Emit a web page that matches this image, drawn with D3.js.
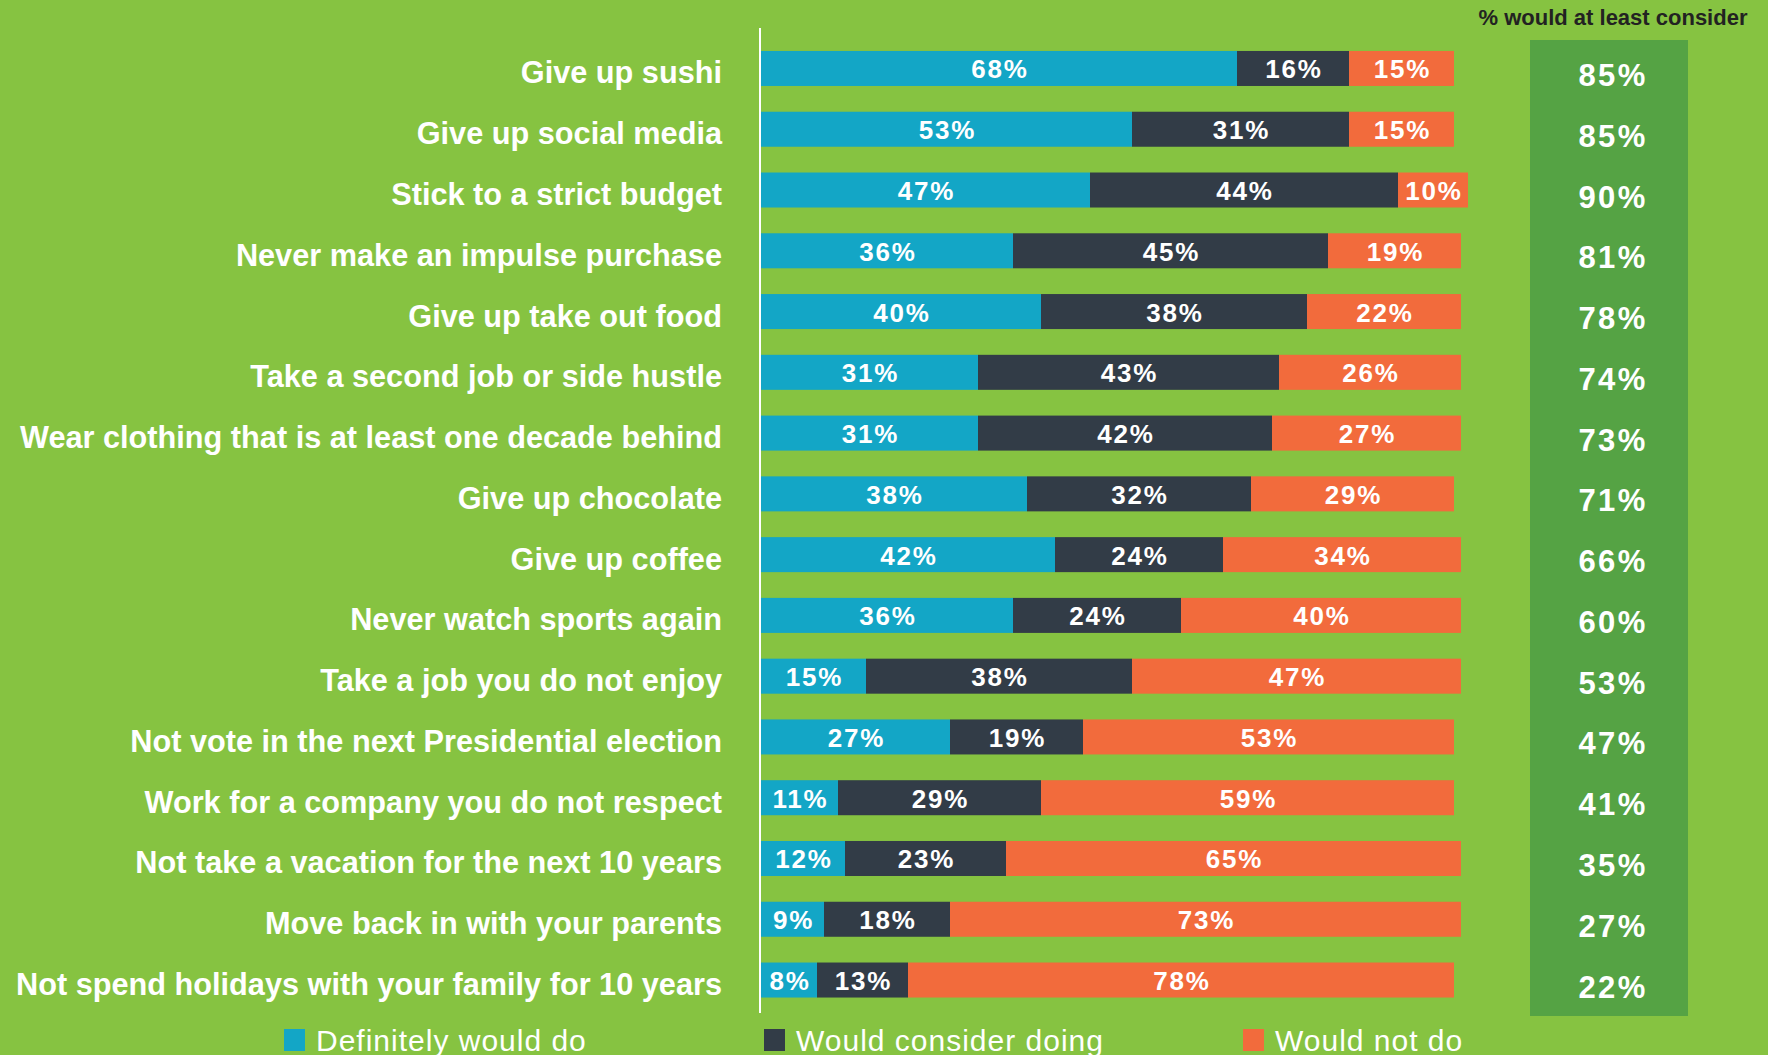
<!DOCTYPE html>
<html>
<head>
<meta charset="utf-8">
<script src="https://cdn.jsdelivr.net/npm/d3@7"></script>
<style>
  body { margin: 0; background: #86c341; }
  svg { display: block; }
  text { font-family: "Liberation Sans", Arial, sans-serif; }
</style>
</head>
<body>
<div id="chart"></div>
<script>
// survey items, top to bottom
const items = [
  "Give up sushi",
  "Give up social media",
  "Stick to a strict budget",
  "Never make an impulse purchase",
  "Give up take out food",
  "Take a second job or side hustle",
  "Wear clothing that is at least one decade behind",
  "Give up chocolate",
  "Give up coffee",
  "Never watch sports again",
  "Take a job you do not enjoy",
  "Not vote in the next Presidential election",
  "Work for a company you do not respect",
  "Not take a vacation for the next 10 years",
  "Move back in with your parents",
  "Not spend holidays with your family for 10 years"
];

const definitely = [68, 53, 47, 36, 40, 31, 31, 38, 42, 36, 15, 27, 11, 12, 9, 8];
const consider   = [16, 31, 44, 45, 38, 43, 42, 32, 24, 24, 38, 19, 29, 23, 18, 13];
const wouldNot   = [15, 15, 10, 19, 22, 26, 27, 29, 34, 40, 47, 53, 59, 65, 73, 78];
const atLeast    = [85, 85, 90, 81, 78, 74, 73, 71, 66, 60, 53, 47, 41, 35, 27, 22];

const seriesNames = ["Definitely would do", "Would consider doing", "Would not do"];
const seriesColors = ["#13a6c6", "#323c47", "#f26b3c"];

const W = 1768, H = 1055;

const svg = d3.select("#chart").append("svg")
  .attr("width", W)
  .attr("height", H);

svg.append("rect")
  .attr("width", W).attr("height", H)
  .attr("fill", "#86c341");

// scales
const x = d3.scaleLinear()
  .domain([0, 100])
  .range([761, 1461]);

const y = d3.scaleBand()
  .domain(items)
  .range([25.2, 1023.3])
  .paddingInner(0.424)
  .paddingOuter(0.424);

// stack the three answers
const rows = items.map((name, i) => ({
  name: name,
  s0: definitely[i],
  s1: consider[i],
  s2: wouldNot[i]
}));
const stacked = d3.stack().keys(["s0", "s1", "s2"])(rows);

// right-side summary panel
svg.append("rect")
  .attr("x", 1530)
  .attr("y", 40)
  .attr("width", 158)
  .attr("height", 976)
  .attr("fill", "#55a344");

svg.append("text")
  .attr("x", 1613)
  .attr("y", 25)
  .attr("text-anchor", "middle")
  .attr("fill", "#222")
  .style("font-size", "22px")
  .style("font-weight", "bold")
  .text("% would at least consider");

// bars
const layers = svg.selectAll(".layer")
  .data(stacked)
  .join("g")
  .attr("class", "layer")
  .attr("fill", (d, i) => seriesColors[i]);

layers.selectAll("rect")
  .data(d => d)
  .join("rect")
  .attr("x", d => x(d[0]))
  .attr("y", d => y(d.data.name))
  .attr("width", d => x(d[1]) - x(d[0]))
  .attr("height", y.bandwidth());

layers.selectAll(".val")
  .data(d => d.map(v => ({ v: v, key: d.key })))
  .join("text")
  .attr("class", "val")
  .attr("x", d => (x(d.v[0]) + x(d.v[1])) / 2 + 1)
  .attr("y", d => y(d.v.data.name) + y.bandwidth() / 2 + 10)
  .attr("text-anchor", "middle")
  .attr("fill", "#fff")
  .style("font-size", "26px")
  .style("font-weight", "bold")
  .style("letter-spacing", "1.8px")
  .text(d => d.v.data[d.key] + "%");

// axis line
svg.append("line")
  .attr("x1", 760).attr("x2", 760)
  .attr("y1", 28).attr("y2", 1013)
  .attr("stroke", "#fff")
  .attr("stroke-width", 2);

// category labels
svg.append("g")
  .selectAll("text")
  .data(items)
  .join("text")
  .attr("x", 722)
  .attr("y", d => y(d) + y.bandwidth() / 2 + 15)
  .attr("text-anchor", "end")
  .attr("fill", "#fff")
  .style("font-size", "30.7px")
  .style("font-weight", "bold")
  .text(d => d);

// summary values
svg.append("g")
  .selectAll("text")
  .data(atLeast)
  .join("text")
  .attr("x", 1613)
  .attr("y", (d, i) => y(items[i]) + y.bandwidth() / 2 + 17.5)
  .attr("text-anchor", "middle")
  .attr("fill", "#fff")
  .style("font-size", "31px")
  .style("font-weight", "bold")
  .style("letter-spacing", "2.4px")
  .text(d => d + "%");

// legend (runs off the bottom edge, as in the original)
const legendX = [284, 764, 1243];
const legend = svg.append("g")
  .selectAll("g")
  .data(seriesNames)
  .join("g")
  .attr("transform", (d, i) => `translate(${legendX[i]},1029)`);

legend.append("rect")
  .attr("width", 21)
  .attr("height", 22)
  .attr("fill", (d, i) => seriesColors[i]);

legend.append("text")
  .attr("x", 32)
  .attr("y", 22)
  .attr("fill", "#fff")
  .style("font-size", "30px")
  .style("letter-spacing", "1px")
  .text(d => d);
</script>
</body>
</html>
